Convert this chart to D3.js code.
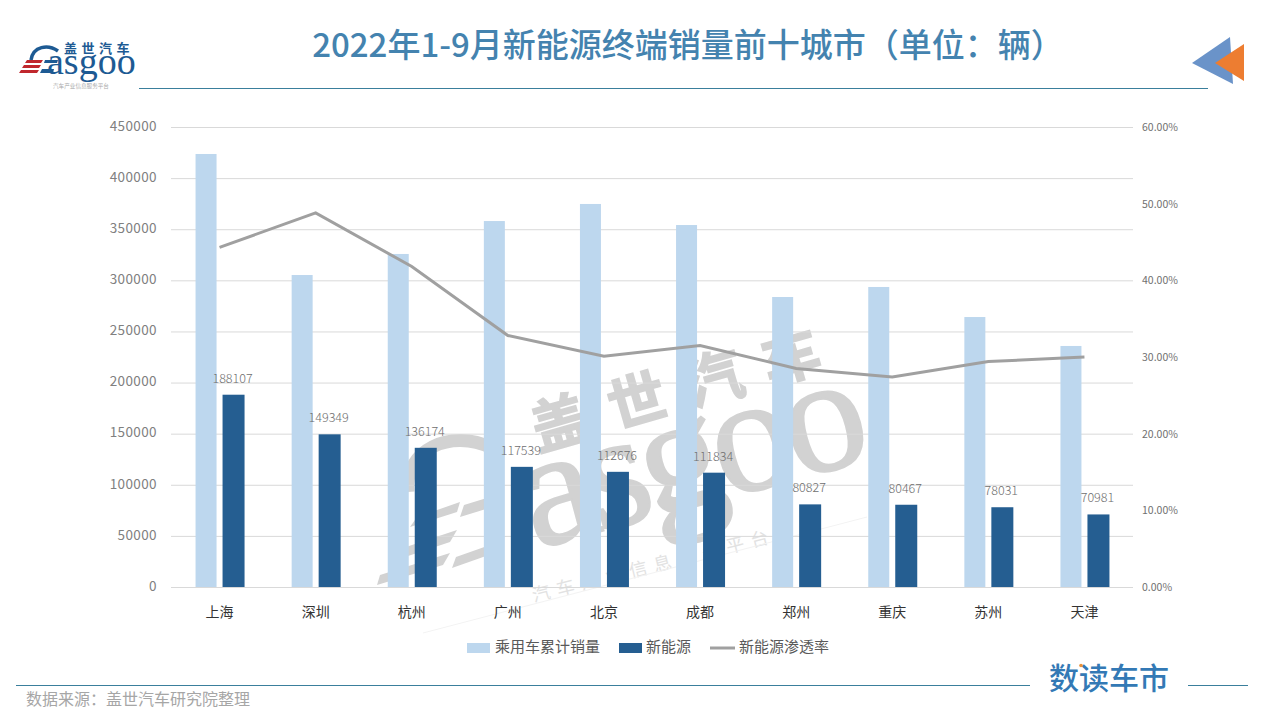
<!DOCTYPE html>
<html><head><meta charset="utf-8">
<script src="https://cdn.jsdelivr.net/npm/d3@7"></script>
<style>html,body{margin:0;background:#fff}svg{display:block}text{font-family:"Noto Sans CJK SC","Noto Sans",sans-serif}</style>
</head><body><svg id="c" width="1280" height="720"></svg>
<script>
const cities=["上海","深圳","杭州","广州","北京","成都","郑州","重庆","苏州","天津"];
const totalSales=[423600,305200,325800,358000,374700,354100,283700,293500,264100,235800];
const nevSales=[188107,149349,136174,117539,112676,111834,80827,80467,78031,70981];
const nevRate=[0.443,0.488,0.418,0.328,0.301,0.315,0.285,0.274,0.294,0.300];
const leftTicks=[0,50000,100000,150000,200000,250000,300000,350000,400000,450000];
const rightTicks=[0,0.1,0.2,0.3,0.4,0.5,0.6];
const seriesNames=["乘用车累计销量","新能源","新能源渗透率"];
const titleText="2022年1-9月新能源终端销量前十城市（单位：辆）";
const sourceText="数据来源：盖世汽车研究院整理";

const LIGHT="#bdd7ee",DARK="#255e91",GREY="#a0a0a0",RULE="#3a7f9c";
const svg=d3.select("#c");
const m={l:171,r:1133,t:127,b:587};
const x=d3.scaleBand().domain(cities).range([m.l+.5,m.r-.5]).padding(0);
const y=d3.scaleLinear().domain([0,450000]).range([m.b,m.t]);
const yR=d3.scaleLinear().domain([0,0.6]).range([m.b,m.t]);

// watermark
const WM="#d2d2d2";
svg.append("text").attr("transform","translate(538,451) rotate(-16)").attr("fill",WM).attr("stroke",WM).attr("stroke-width",1.5)
  .attr("font-size",58).attr("font-weight",700).attr("letter-spacing",22).text("盖世汽车");
svg.append("text").attr("transform","translate(535,549) rotate(-15)").attr("fill",WM).attr("stroke",WM).attr("stroke-width",2)
  .attr("font-size",165).attr("letter-spacing",-8).style("font-family","'Liberation Serif',serif").text("asgoo");
svg.append("path").attr("fill","none").attr("stroke",WM).attr("stroke-width",13)
  .attr("d","M408,492 C404,450 450,428 492,448");
svg.append("g").attr("fill",WM).selectAll("path").data([
  "M417,517L460,502L457,512L410,527Z",
  "M397,550L457,530L450,542L390,562Z",
  "M380,575L450,553L443,565L377,585Z",
  "M464,505L490,497L486,509L460,517Z",
  "M456,557L490,545L486,556L452,568Z"]).join("path").attr("d",d=>d);
svg.append("text").attr("transform","translate(534,602) rotate(-14)").attr("fill","#e2e2e2")
  .attr("font-size",18).attr("letter-spacing",7).text("汽车产业信息服务平台");
svg.append("path").attr("d","M423,633L867,517").attr("stroke","#f3f3f3").attr("fill","none");

// grid
svg.append("g").selectAll("line").data(leftTicks).join("line")
  .attr("x1",m.l).attr("x2",m.r).attr("y1",d=>y(d)+.5).attr("y2",d=>y(d)+.5).attr("stroke","#d9d9d9");

// axes
const axL=d3.axisLeft(y).tickValues(leftTicks).tickSize(0).tickPadding(14).tickFormat(d3.format("d"));
const gL=svg.append("g").attr("transform",`translate(${m.l},-1)`).call(axL);
gL.select(".domain").remove();
gL.selectAll("text").attr("font-size",13.5).attr("fill","#808080").attr("letter-spacing",.4);
const axR=d3.axisRight(yR).tickValues(rightTicks).tickSize(0).tickPadding(9).tickFormat(d3.format(".2%"));
const gR=svg.append("g").attr("transform",`translate(${m.r},0)`).call(axR);
gR.select(".domain").remove();
gR.selectAll("text").attr("font-size",10.5).attr("fill","#707070");
const axB=d3.axisBottom(x).tickSize(0).tickPadding(20);
const gB=svg.append("g").attr("transform",`translate(0,${m.b})`).call(axB);
gB.select(".domain").remove();
gB.selectAll("text").attr("font-size",14).attr("fill","#333");

// bars
const cx=d=>x(d)+x.bandwidth()/2;
svg.append("g").selectAll("rect").data(cities).join("rect")
  .attr("x",d=>cx(d)-24).attr("width",21)
  .attr("y",(d,i)=>y(totalSales[i])).attr("height",(d,i)=>y(0)-y(totalSales[i])).attr("fill",LIGHT);
svg.append("g").selectAll("rect").data(cities).join("rect")
  .attr("x",d=>cx(d)+3).attr("width",22)
  .attr("y",(d,i)=>y(nevSales[i])).attr("height",(d,i)=>y(0)-y(nevSales[i])).attr("fill",DARK);
svg.append("g").selectAll("text").data(cities).join("text")
  .attr("x",d=>cx(d)+13).attr("y",(d,i)=>y(nevSales[i])-12)
  .attr("text-anchor","middle").attr("font-size",12.5).attr("font-weight",300).attr("fill","#6e6e6e")
  .text((d,i)=>nevSales[i]);

// line
svg.append("path").datum(cities).attr("fill","none").attr("stroke",GREY).attr("stroke-width",3)
  .attr("d",d3.line().x(cx).y((d,i)=>yR(nevRate[i])));

// legend
const lg=svg.append("g").attr("font-size",15).attr("fill","#595959");
lg.append("rect").attr("x",467).attr("y",643).attr("width",23).attr("height",10).attr("fill",LIGHT);
lg.append("text").attr("x",495).attr("y",652).text(seriesNames[0]);
lg.append("rect").attr("x",619).attr("y",643).attr("width",23).attr("height",10).attr("fill",DARK);
lg.append("text").attr("x",646).attr("y",652).text(seriesNames[1]);
lg.append("line").attr("x1",710).attr("x2",735).attr("y1",648).attr("y2",648).attr("stroke",GREY).attr("stroke-width",3);
lg.append("text").attr("x",739).attr("y",652).text(seriesNames[2]);

// title & rules
svg.append("text").attr("x",688).attr("y",57).attr("text-anchor","middle").attr("font-size",33).attr("font-weight",500).attr("fill","#4483af").text(titleText);
[[139,1208,88.5],[16,1030,685.5],[1188,1248,685.5]].forEach(r=>
  svg.append("line").attr("x1",r[0]).attr("x2",r[1]).attr("y1",r[2]).attr("y2",r[2]).attr("stroke",RULE));
svg.append("text").attr("x",26).attr("y",705).attr("font-size",16).attr("fill","#a6a6a6").text(sourceText);

// arrows top right
svg.append("path").attr("d","M1192,63L1230,37L1233,84Z").attr("fill","#6a93c9");
svg.append("path").attr("d","M1215,63L1244,44L1244,81Z").attr("fill","#ed7d31");

// bottom badge
svg.append("text").attr("x",1049).attr("y",689).attr("font-size",30).attr("font-weight",500).attr("fill","#3379b5").text("数读车市");
svg.append("circle").attr("cx",1081).attr("cy",665.5).attr("r",1.8).attr("fill","#e8923a");

// logo
const BL="#1d5a93";
const lo=svg.append("g");
lo.append("text").attr("x",64).attr("y",53).attr("font-size",13).attr("font-weight",700).attr("letter-spacing",4.5).attr("fill",BL).text("盖世汽车");
lo.append("text").attr("x",47).attr("y",74).attr("font-size",38).style("font-family","'Liberation Serif',serif").attr("fill",BL).text("asgoo");
lo.append("path").attr("fill","none").attr("stroke",BL).attr("stroke-width",3.5).attr("d","M31,60 C33,46 48,44 58,51");
lo.append("g").attr("fill","#c0272d").selectAll("path").data(["M27,60H43L41,63H25Z","M24,65H41L39,68H22Z","M21,70H39L37,73H19Z"]).join("path").attr("d",d=>d);
lo.append("g").attr("fill",BL).selectAll("path").data(["M45,60H58L57,63H44Z","M42,69H54L53,73H40Z"]).join("path").attr("d",d=>d);
lo.append("text").attr("x",53).attr("y",88).attr("font-size",5.6).attr("fill","#aaa").text("汽车产业信息服务平台");
</script></body></html>
